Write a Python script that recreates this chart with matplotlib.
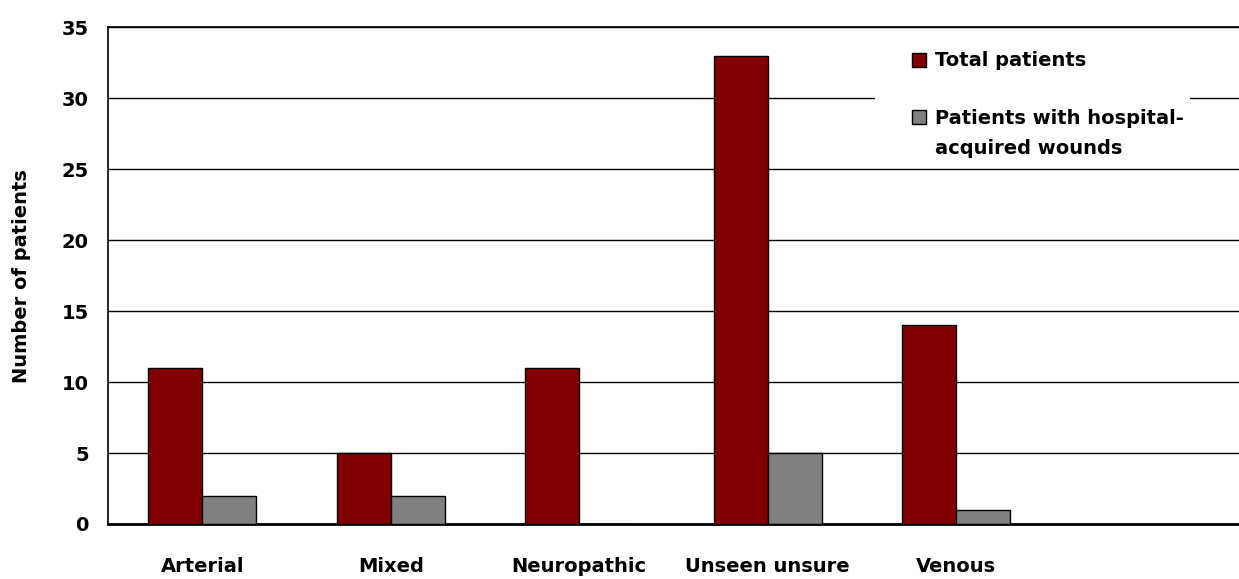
import numpy as np
import matplotlib.pyplot as plt
from matplotlib.patches import Rectangle

categories = ['Arterial', 'Mixed', 'Neuropathic', 'Unseen unsure', 'Venous']
total_patients = [11, 5, 11, 33, 14]
hospital_acquired = [2, 2, 0, 5, 1]
series_names = ['Total patients', 'Patients with hospital-\nacquired wounds']
series_colors = ['#800000', '#808080']
yticks = [0, 5, 10, 15, 20, 25, 30, 35]

plt.rcParams['font.family'] = ['DejaVu Sans']
plt.rcParams['font.weight'] = 'bold'

fig = plt.figure(figsize=(12.39, 5.79), dpi=100)
ax = fig.add_axes([0.0872, 0.095, 0.9128, 0.858])

x = np.arange(len(categories))
w = 0.287
ax.bar(x - w / 2, total_patients, w, color=series_colors[0], edgecolor='black', linewidth=1, zorder=3)
ax.bar(x + w / 2, hospital_acquired, w, color=series_colors[1], edgecolor='black', linewidth=1, zorder=3)

ax.set_xlim(-0.5, len(categories) + 0.5)
ax.set_ylim(0, 35)
ax.set_yticks(yticks)
ax.set_xticks(x)
ax.set_xticklabels(categories, fontsize=14, fontweight='bold')
ax.tick_params(axis='x', length=0, pad=24)
ax.tick_params(axis='y', length=0, pad=14, labelsize=14)
for lbl in ax.get_yticklabels():
    lbl.set_fontweight('bold')
ax.grid(axis='y', color='black', linewidth=1, zorder=0)
for side in ['top', 'left']:
    ax.spines[side].set_linewidth(1.2)
ax.spines['bottom'].set_linewidth(2)
ax.spines['right'].set_visible(False)

ax.set_ylabel('Number of patients', fontsize=14, fontweight='bold', labelpad=22)

# legend drawn by hand so the marker sits on the first text line
ax.add_patch(Rectangle((0.678, 0.732), 0.279, 0.242, transform=ax.transAxes,
                       facecolor='white', edgecolor='none', zorder=4))
marker_y = [0.934, 0.819]
text_y = [0.934, 0.786]
for name, col, my, ty in zip(series_names, series_colors, marker_y, text_y):
    ax.add_patch(Rectangle((0.711, my - 0.014), 0.0124, 0.028, transform=ax.transAxes,
                           facecolor=col, edgecolor='black', linewidth=1, zorder=5))
    ax.text(0.731, ty, name, transform=ax.transAxes, fontsize=14, fontweight='bold',
            va='center', ha='left', linespacing=1.7, zorder=6)

fig.savefig('out.png', dpi=100)
